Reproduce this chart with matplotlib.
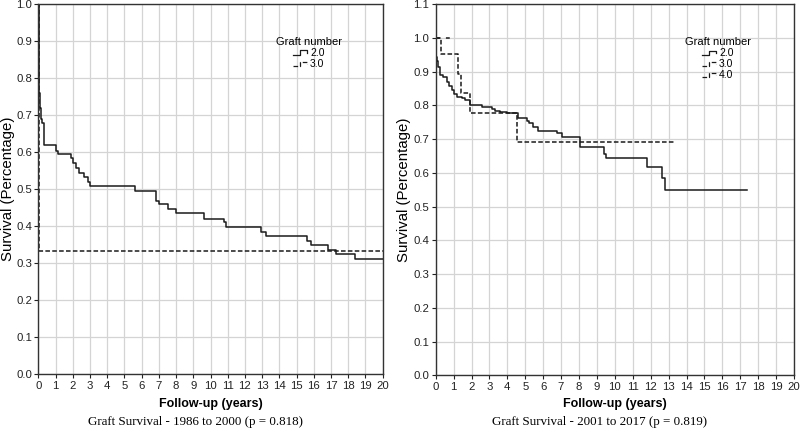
import numpy as np
import matplotlib
matplotlib.use("Agg")
import matplotlib.pyplot as plt
from matplotlib.lines import Line2D
from matplotlib.legend_handler import HandlerBase

plt.rcParams['font.family'] = ['Liberation Sans', 'DejaVu Sans']

# left panel: 1986 to 2000
left_t_g2 = [0, 0.02, 0.06, 0.10, 0.16, 0.23, 0.33, 1.03, 1.16, 1.88, 2.03, 2.17, 2.38,
             2.67, 2.90, 3.00, 5.62, 6.84, 7.03, 7.55, 7.98, 9.62, 10.80, 10.88, 12.93,
             13.20, 15.58, 15.82, 16.81, 17.29, 18.39, 20.0]
left_s_g2 = [1.0, 0.80, 0.76, 0.72, 0.69, 0.68, 0.62, 0.604, 0.595, 0.584, 0.570, 0.558,
             0.545, 0.534, 0.520, 0.509, 0.496, 0.468, 0.459, 0.446, 0.435, 0.420, 0.410,
             0.397, 0.384, 0.373, 0.361, 0.349, 0.336, 0.324, 0.311, 0.311]
left_t_g3 = [0, 0.06, 20.0]
left_s_g3 = [1.0, 0.333, 0.333]

# right panel: 2001 to 2017
right_t_g2 = [0, 0.02, 0.05, 0.11, 0.24, 0.40, 0.61, 0.76, 0.89, 1.02, 1.17, 1.45, 1.64,
              1.92, 2.57, 3.13, 3.31, 3.59, 3.97, 4.62, 5.08, 5.23, 5.45, 5.73, 6.76, 7.07,
              8.06, 9.40, 9.49, 11.78, 12.65, 12.80, 17.39]
right_s_g2 = [1.0, 0.944, 0.930, 0.914, 0.890, 0.883, 0.870, 0.857, 0.845, 0.833, 0.825,
              0.821, 0.816, 0.801, 0.794, 0.788, 0.783, 0.780, 0.776, 0.761, 0.754, 0.748,
              0.736, 0.725, 0.717, 0.705, 0.677, 0.656, 0.643, 0.618, 0.584, 0.549, 0.549]
right_t_g3 = [0, 0.28, 1.27, 1.42, 1.92, 4.56, 13.37]
right_s_g3 = [1.0, 0.951, 0.893, 0.835, 0.776, 0.690, 0.690]
right_t_g4 = [0, 0.98]
right_s_g4 = [1.0, 1.0]

x_ticks = list(range(0, 21))
captions = ["Graft Survival - 1986 to 2000 (p = 0.818)",
            "Graft Survival - 2001 to 2017 (p = 0.819)"]


class StepHandler(HandlerBase):
    def create_artists(self, legend, orig, xd, yd, w, h, fontsize, trans):
        x0, y0 = -xd, -yd
        ln = Line2D([x0, x0 + 0.45 * w, x0 + 0.45 * w, x0 + 0.85 * w, x0 + 0.85 * w],
                    [y0 + 0.15 * h, y0 + 0.15 * h, y0 + 0.8 * h, y0 + 0.8 * h, y0 + 0.45 * h])
        ln.set_color(orig.get_color())
        ln.set_linestyle(orig.get_linestyle())
        ln.set_linewidth(0.9)
        ln.set_transform(trans)
        return [ln]


fig = plt.figure(figsize=(8, 4.28), dpi=100)
ax1 = fig.add_axes([0.0479, 0.1255, 0.4305, 0.865])
ax2 = fig.add_axes([0.5446, 0.1231, 0.4479, 0.8675])

col = '#1a1a1a'
dash3 = (0, (3, 1.5))
dash4 = (0, (2.5, 4))

l2, = ax1.step(left_t_g2, left_s_g2, where='post', color=col, lw=1.1, label='2.0')
l3, = ax1.step(left_t_g3, left_s_g3, where='post', color=col, lw=1.1, ls=dash3, label='3.0')

r2, = ax2.step(right_t_g2, right_s_g2, where='post', color=col, lw=1.1, label='2.0')
r3, = ax2.step(right_t_g3, right_s_g3, where='post', color=col, lw=1.1, ls=dash3, label='3.0')
r4, = ax2.step(right_t_g4, right_s_g4, where='post', color=col, lw=1.1, ls=dash4, label='4.0')

for ax, ymax, lx in [(ax1, 1.0, -0.068), (ax2, 1.1, -0.068)]:
    ax.set_xlim(0, 20)
    ax.set_ylim(0, ymax)
    ax.set_xticks(x_ticks)
    ax.set_yticks(np.round(np.arange(0, ymax + 0.001, 0.1), 1))
    ax.yaxis.set_major_formatter(matplotlib.ticker.FormatStrFormatter('%.1f'))
    ax.tick_params(labelsize=8.2, length=3, width=0.8, pad=1.5, colors='#222222')
    ax.grid(True, color='#d4d4d4', lw=0.9)
    ax.set_axisbelow(True)
    for s in ax.spines.values():
        s.set_color('#333333')
        s.set_linewidth(1.0)
    ax.set_ylabel('Survival (Percentage)', fontsize=10.8)
    ax.yaxis.set_label_coords(lx, 0.5)

# x labels and captions under each panel
fig.text(0.263, 0.056, 'Follow-up (years)', fontsize=9, fontweight='bold',
         ha='center', va='center')
fig.text(0.769, 0.056, 'Follow-up (years)', fontsize=9, fontweight='bold',
         ha='center', va='center')
fig.text(0.245, 0.014, captions[0], family=['Liberation Serif', 'DejaVu Serif'],
         fontsize=9.4, ha='center', va='center')
fig.text(0.75, 0.014, captions[1], family=['Liberation Serif', 'DejaVu Serif'],
         fontsize=9.4, ha='center', va='center')

hm = {l2: StepHandler(), l3: StepHandler(), r2: StepHandler(), r3: StepHandler(), r4: StepHandler()}
leg1 = ax1.legend(handles=[l2, l3], title='Graft number', loc='upper center',
                  bbox_to_anchor=(0.786, 0.93), frameon=False, fontsize=7.5,
                  title_fontsize=8, handlelength=1.5, handletextpad=0.1,
                  labelspacing=0.1, borderpad=0.2, handler_map=hm)
leg2 = ax2.legend(handles=[r2, r3, r4], title='Graft number', loc='upper center',
                  bbox_to_anchor=(0.788, 0.93), frameon=False, fontsize=7.5,
                  title_fontsize=8, handlelength=1.5, handletextpad=0.1,
                  labelspacing=0.1, borderpad=0.2, handler_map=hm)

fig.savefig('out.png', dpi=100)
